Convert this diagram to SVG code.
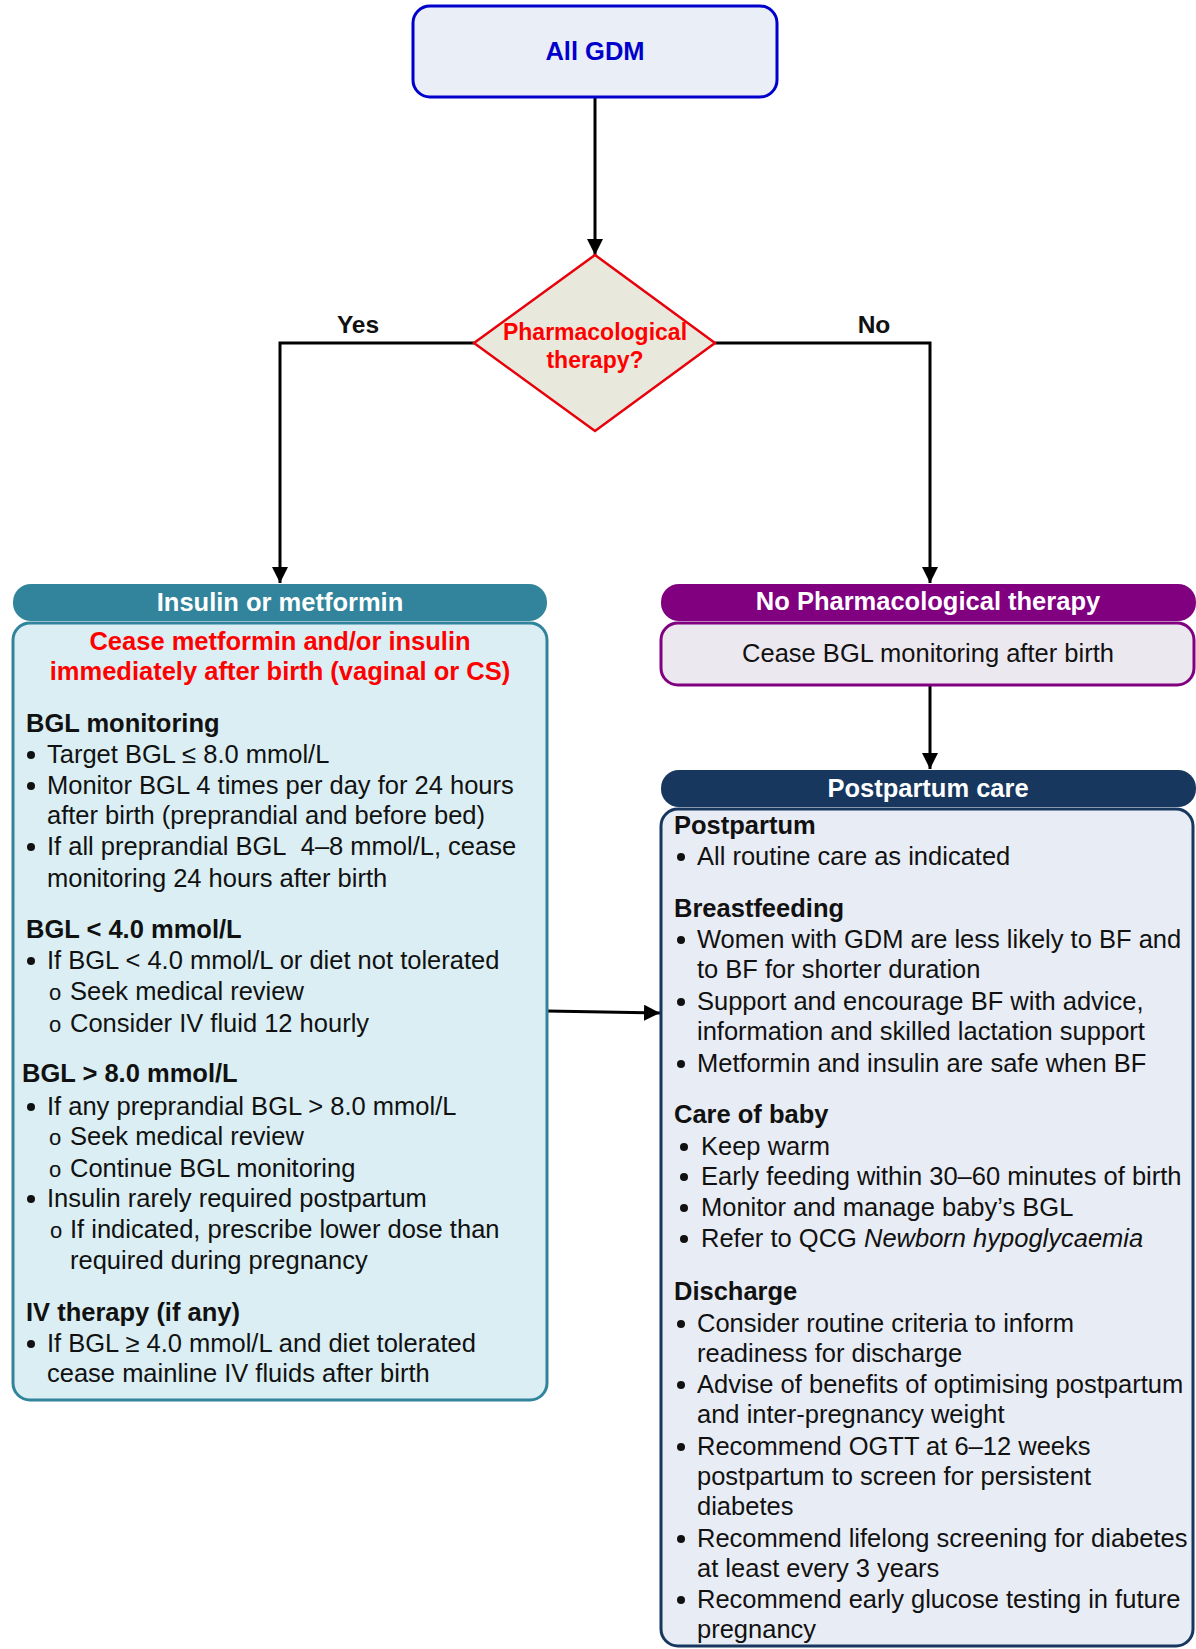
<svg xmlns="http://www.w3.org/2000/svg" width="1196" height="1649" viewBox="0 0 1196 1649">
<defs>
<marker id="arr" markerUnits="userSpaceOnUse" markerWidth="16" markerHeight="16" refX="16" refY="8" orient="auto">
<path d="M0,0 L16,8 L0,16 z" fill="#000"/>
</marker>
<style>
text{font-family:"Liberation Sans",Arial,sans-serif;font-size:25.5px;fill:#111}
.b{font-weight:bold}
.c{text-anchor:middle}
.w{fill:#fff;font-weight:bold}
.r{fill:#f00;font-weight:bold}
.o{font-size:22px}
.conn{fill:none;stroke:#000;stroke-width:3}
.dot{fill:#111}
</style>
</defs>
<rect width="1196" height="1649" fill="#fff"/>

<g id="connectors">
<path class="conn" d="M595,97 V255" marker-end="url(#arr)"/>
<path class="conn" d="M474,343 H280 V583" marker-end="url(#arr)"/>
<path class="conn" d="M715,343 H930 V583" marker-end="url(#arr)"/>
<path class="conn" d="M930,685 V769" marker-end="url(#arr)"/>
<path class="conn" d="M547,1011 L660,1013" marker-end="url(#arr)"/>
<text class="b c" x="358" y="333" style="font-size:24.5px">Yes</text>
<text class="b c" x="874" y="333" style="font-size:24.5px">No</text>
</g>

<g id="all-gdm">
<rect x="413" y="6" width="364" height="91" rx="17" fill="#E9EEF7" stroke="#0000CC" stroke-width="3"/>
<text class="b c" x="595" y="60" style="fill:#0000CC;font-size:25.5px">All GDM</text>
</g>

<g id="decision">
<polygon points="595,255 715,343 595,431 474,343" fill="#E8E9DC" stroke="#E8000B" stroke-width="2.5"/>
<text class="r c" x="595" y="340" style="font-size:23px">Pharmacological</text>
<text class="r c" x="595" y="368" style="font-size:23px">therapy?</text>
</g>

<g id="insulin-metformin">
<rect x="13" y="623" width="534" height="777" rx="17" fill="#DAEEF3" stroke="#31849B" stroke-width="3"/>
<rect x="13" y="584" width="534" height="37" rx="18" fill="#31849B"/>
<text class="w c" x="280" y="611">Insulin or metformin</text>
<text class="r c" x="280" y="650">Cease metformin and/or insulin</text>
<text class="r c" x="280" y="680">immediately after birth (vaginal or CS)</text>
<text class="b" x="26" y="732">BGL monitoring</text>
<circle class="dot" cx="31" cy="755" r="4"/><text x="47" y="763">Target BGL ≤ 8.0 mmol/L</text>
<circle class="dot" cx="31" cy="786" r="4"/><text x="47" y="794">Monitor BGL 4 times per day for 24 hours</text>
<text x="47" y="824">after birth (preprandial and before bed)</text>
<circle class="dot" cx="31" cy="847" r="4"/><text x="47" y="855">If all preprandial BGL&#160; 4–8 mmol/L, cease</text>
<text x="47" y="887">monitoring 24 hours after birth</text>
<text class="b" x="26" y="938">BGL &lt; 4.0 mmol/L</text>
<circle class="dot" cx="31" cy="961" r="4"/><text x="47" y="969">If BGL &lt; 4.0 mmol/L or diet not tolerated</text>
<text class="o" x="49" y="1000">o</text><text x="70" y="1000">Seek medical review</text>
<text class="o" x="49" y="1032">o</text><text x="70" y="1032">Consider IV fluid 12 hourly</text>
<text class="b" x="22" y="1082">BGL &gt; 8.0 mmol/L</text>
<circle class="dot" cx="31" cy="1107" r="4"/><text x="47" y="1115">If any preprandial BGL &gt; 8.0 mmol/L</text>
<text class="o" x="49" y="1145">o</text><text x="70" y="1145">Seek medical review</text>
<text class="o" x="49" y="1177">o</text><text x="70" y="1177">Continue BGL monitoring</text>
<circle class="dot" cx="31" cy="1199" r="4"/><text x="47" y="1207">Insulin rarely required postpartum</text>
<text class="o" x="50" y="1238">o</text><text x="70" y="1238">If indicated, prescribe lower dose than</text>
<text x="70" y="1269">required during pregnancy</text>
<text class="b" x="26" y="1321">IV therapy (if any)</text>
<circle class="dot" cx="31" cy="1344" r="4"/><text x="47" y="1352">If BGL ≥ 4.0 mmol/L and diet tolerated</text>
<text x="47" y="1382">cease mainline IV fluids after birth</text>
</g>

<g id="no-pharm">
<rect x="661" y="623" width="533" height="62" rx="17" fill="#ECE8F0" stroke="#800080" stroke-width="3"/>
<rect x="661" y="584" width="535" height="37" rx="18" fill="#800080"/>
<text class="w c" x="928" y="610">No Pharmacological therapy</text>
<text class="c" x="928" y="662">Cease BGL monitoring after birth</text>
</g>

<g id="postpartum-care">
<rect x="661" y="809" width="532" height="837" rx="17" fill="#E8ECF4" stroke="#17375E" stroke-width="3"/>
<rect x="661" y="770" width="535" height="37" rx="18" fill="#17375E"/>
<text class="w c" x="928" y="797">Postpartum care</text>
<text class="b" x="674" y="834">Postpartum</text>
<circle class="dot" cx="681" cy="857" r="4"/><text x="697" y="865">All routine care as indicated</text>
<text class="b" x="674" y="917">Breastfeeding</text>
<circle class="dot" cx="681" cy="940" r="4"/><text x="697" y="948">Women with GDM are less likely to BF and</text>
<text x="697" y="978">to BF for shorter duration</text>
<circle class="dot" cx="681" cy="1002" r="4"/><text x="697" y="1010">Support and encourage BF with advice,</text>
<text x="697" y="1040">information and skilled lactation support</text>
<circle class="dot" cx="681" cy="1064" r="4"/><text x="697" y="1072">Metformin and insulin are safe when BF</text>
<text class="b" x="674" y="1123">Care of baby</text>
<circle class="dot" cx="684" cy="1147" r="4"/><text x="701" y="1155">Keep warm</text>
<circle class="dot" cx="684" cy="1177" r="4"/><text x="701" y="1185">Early feeding within 30–60 minutes of birth</text>
<circle class="dot" cx="684" cy="1208" r="4"/><text x="701" y="1216">Monitor and manage baby’s BGL</text>
<circle class="dot" cx="684" cy="1239" r="4"/><text x="701" y="1247">Refer to QCG <tspan font-style="italic">Newborn hypoglycaemia</tspan></text>
<text class="b" x="674" y="1300">Discharge</text>
<circle class="dot" cx="681" cy="1324" r="4"/><text x="697" y="1332">Consider routine criteria to inform</text>
<text x="697" y="1362">readiness for discharge</text>
<circle class="dot" cx="681" cy="1385" r="4"/><text x="697" y="1393">Advise of benefits of optimising postpartum</text>
<text x="697" y="1423">and inter-pregnancy weight</text>
<circle class="dot" cx="681" cy="1447" r="4"/><text x="697" y="1455">Recommend OGTT at 6–12 weeks</text>
<text x="697" y="1485">postpartum to screen for persistent</text>
<text x="697" y="1515">diabetes</text>
<circle class="dot" cx="681" cy="1539" r="4"/><text x="697" y="1547">Recommend lifelong screening for diabetes</text>
<text x="697" y="1577">at least every 3 years</text>
<circle class="dot" cx="681" cy="1600" r="4"/><text x="697" y="1608">Recommend early glucose testing in future</text>
<text x="697" y="1638">pregnancy</text>
</g>
</svg>
